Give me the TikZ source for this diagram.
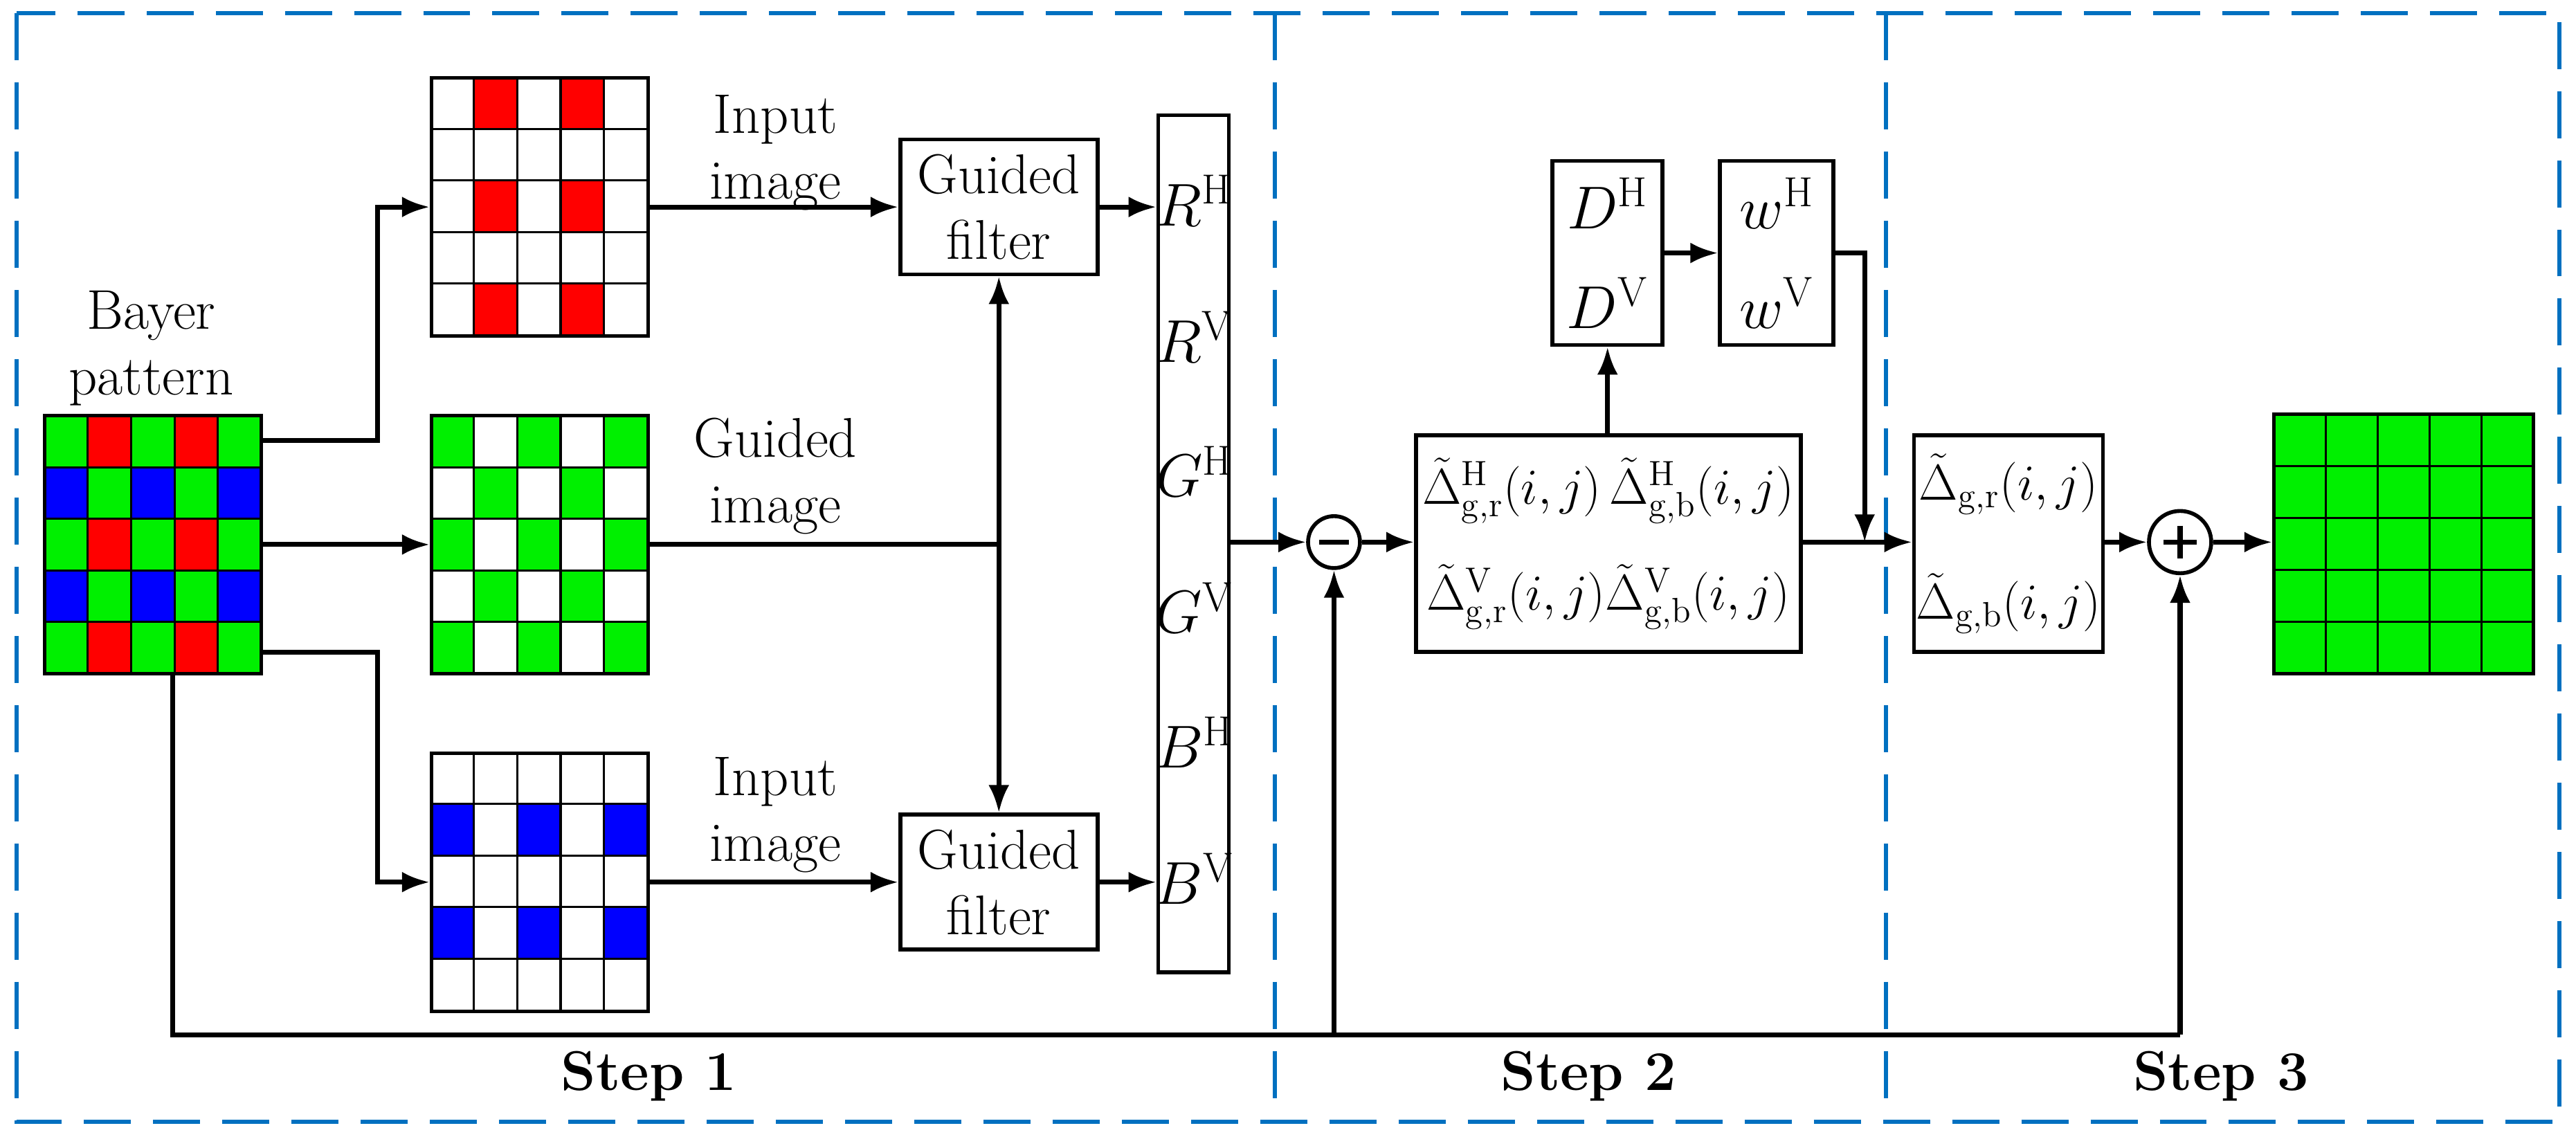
\documentclass[tikz,border=0pt]{standalone}
\usetikzlibrary{arrows.meta}
\begin{document}
\begin{tikzpicture}[x=0.02374cm,y=-0.02374cm,
  every node/.style={font=\fontsize{23}{27}\selectfont},
  box/.style={draw,line width=1.6pt,inner sep=0pt,align=center},
  ln/.style={line width=2pt},
  ar/.style={ln,-{Latex[length=0.4cm,width=0.3cm]}},
  dar/.style={ln,{Latex[length=0.4cm,width=0.3cm]}-{Latex[length=0.4cm,width=0.3cm]}},
  bdash/.style={draw=dashblue,line width=1.8pt,dash pattern=on 0.68cm off 0.32cm},
  gridn/.style={inner sep=0pt,minimum width=3.13cm,minimum height=3.73cm}]
\definecolor{dashblue}{RGB}{0,112,192}
\definecolor{gg}{RGB}{0,240,0}
\useasboundingbox (0,0) rectangle (1568,692);
% frames
\draw[bdash] (10,8) rectangle (1558,683);
\draw[bdash] (776,8) -- (776,683);
\draw[bdash] (1148,8) -- (1148,683);
\node[font=\bfseries\fontsize{23}{27}\selectfont] (s1) at (395,655) {Step 1};
\node[font=\bfseries\fontsize{23}{27}\selectfont] (s2) at (967,655) {Step 2};
\node[font=\bfseries\fontsize{23}{27}\selectfont] (s3) at (1352,655) {Step 3};
% grids: fills
\def\cw{26.4}\def\ch{31.4}
\foreach \c/\r in {0/0,2/0,4/0,1/1,3/1,0/2,2/2,4/2,1/3,3/3,0/4,2/4,4/4}
  \fill[gg] (27+\c*\cw,253+\r*\ch) rectangle ++(\cw,\ch);
\foreach \c/\r in {1/0,3/0,1/2,3/2,1/4,3/4}
  \fill[red] (27+\c*\cw,253+\r*\ch) rectangle ++(\cw,\ch);
\foreach \c/\r in {0/1,2/1,4/1,0/3,2/3,4/3}
  \fill[blue] (27+\c*\cw,253+\r*\ch) rectangle ++(\cw,\ch);
\foreach \c/\r in {1/0,3/0,1/2,3/2,1/4,3/4}
  \fill[red] (262+\c*\cw,47+\r*\ch) rectangle ++(\cw,\ch);
\foreach \c/\r in {0/0,2/0,4/0,1/1,3/1,0/2,2/2,4/2,1/3,3/3,0/4,2/4,4/4}
  \fill[gg] (262+\c*\cw,253+\r*\ch) rectangle ++(\cw,\ch);
\foreach \c/\r in {0/1,2/1,4/1,0/3,2/3,4/3}
  \fill[blue] (262+\c*\cw,458+\r*\ch) rectangle ++(\cw,\ch);
\fill[gg] (1384,252) rectangle (1542,410);
% grid lines
\foreach \x/\y in {27/253,262/47,262/253,262/458}{
  \foreach \i in {1,...,4}{
    \draw[line width=0.9pt] (\x+\i*\cw,\y) -- ++(0,5*\ch);
    \draw[line width=0.9pt] (\x,\y+\i*\ch) -- ++(5*\cw,0);}}
\foreach \i in {1,...,4}{
  \draw[line width=0.9pt] (1384+\i*31.6,252) -- ++(0,158);
  \draw[line width=0.9pt] (1384,252+\i*31.6) -- ++(158,0);}
\node[gridn,draw,line width=1.4pt] (bay) at (93,331.5) {};
\node[gridn,draw,line width=1.4pt] (rg) at (328.5,126) {};
\node[gridn,draw,line width=1.4pt] (gg) at (328.5,331.5) {};
\node[gridn,draw,line width=1.4pt] (bg) at (328.5,537) {};
\node[gridn,draw,line width=1.4pt,minimum width=3.75cm,minimum height=3.75cm] (og) at (1463,331) {};
% texts
\node[align=center] (tb) at (92,212) {Bayer\\pattern};
\node[align=center] (t1) at (472,93) {Input\\image};
\node[align=center] (t2) at (472,290) {Guided\\image};
\node[align=center] (t3) at (472,496) {Input\\image};
% boxes
\node[box,minimum width=2.85cm,minimum height=1.95cm] (gf1) at (608,126) {Guided\\filter};
\node[box,minimum width=2.85cm,minimum height=1.95cm] (gf2) at (608,537) {Guided\\filter};
\node[box,minimum width=1.02cm,minimum height=12.39cm] (col) at (726.5,331) {};
\node (l1) at (727,122) {$R^{\mathrm{H}}$};
\node (l2) at (727,205) {$R^{\mathrm{V}}$};
\node (l3) at (727,287) {$G^{\mathrm{H}}$};
\node (l4) at (727,370) {$G^{\mathrm{V}}$};
\node (l5) at (727,452) {$B^{\mathrm{H}}$};
\node (l6) at (727,535) {$B^{\mathrm{V}}$};
\node[draw,circle,line width=1.6pt,minimum size=0.75cm,inner sep=0pt] (mi) at (812,330) {};
\draw[line width=2pt] (803,330) -- (821,330);
\node[box,minimum width=5.56cm,minimum height=3.13cm,font=\fontsize{20.5}{25}\selectfont] (dl) at (979,331)
  {$\tilde{\Delta}^{\mathrm{H}}_{\mathrm{g,r}}(i,j)\,\tilde{\Delta}^{\mathrm{H}}_{\mathrm{g,b}}(i,j)$\\[16pt]
   $\tilde{\Delta}^{\mathrm{V}}_{\mathrm{g,r}}(i,j)\tilde{\Delta}^{\mathrm{V}}_{\mathrm{g,b}}(i,j)$};
\node[box,minimum width=1.59cm,minimum height=2.66cm] (db) at (978.5,154) {$D^{\mathrm{H}}$\\[14pt]$D^{\mathrm{V}}$};
\node[box,minimum width=1.64cm,minimum height=2.66cm] (wb) at (1081.5,154) {$w^{\mathrm{H}}$\\[14pt]$w^{\mathrm{V}}$};
\node[box,minimum width=2.73cm,minimum height=3.13cm,font=\fontsize{20.5}{25}\selectfont] (do) at (1222.5,331)
  {$\tilde{\Delta}_{\mathrm{g,r}}(i,j)$\\[24pt]$\tilde{\Delta}_{\mathrm{g,b}}(i,j)$};
\node[draw,circle,line width=1.6pt,minimum size=0.9cm,inner sep=0pt] (pl) at (1327,330) {};
\draw[line width=2pt] (1317,330) -- (1337,330) (1327,320) -- (1327,340);
% connectors
\coordinate (c1) at (230,268);
\coordinate (c2) at (230,397);
\draw[ar] (bay.east |- c1) -- (c1) |- (rg.west);
\draw[ar] (bay.east |- gg.west) -- (gg.west);
\draw[ar] (bay.east |- c2) -- (c2) |- (bg.west);
\draw[ar] (rg.east) -- (gf1.west);
\draw[ar] (bg.east) -- (gf2.west);
\coordinate (jn) at (608,331.5);
\draw[ln] (gg.east) -- (jn);
\draw[dar] (gf1.south) -- (gf2.north);
\draw[ar] (gf1.east) -- (col.west |- gf1.east);
\draw[ar] (gf2.east) -- (col.west |- gf2.east);
\draw[ar] (col.east |- mi) -- (mi.west);
\draw[ar] (mi.east) -- (dl.west |- mi);
\draw[ar] (dl.north -| db) -- (db.south);
\draw[ar] (db.east) -- (wb.west);
\coordinate (wc) at (1135,154);
\coordinate (wd) at (1135,330);
\draw[ar] (wb.east) -- (wc) -- (wd);
\draw[ar] (dl.east |- mi) -- (do.west |- mi);
\draw[ar] (do.east |- pl) -- (pl.west);
\draw[ar] (pl.east) -- (og.west |- pl);
\coordinate (bl) at (105,630);
\coordinate (bm) at (812,630);
\coordinate (br) at (1327,630);
\draw[ln] (bay.south -| bl) -- (bl) -- (br);
\draw[ar] (bm) -- (mi.south);
\draw[ar] (br) -- (pl.south);
\end{tikzpicture}
\end{document}
